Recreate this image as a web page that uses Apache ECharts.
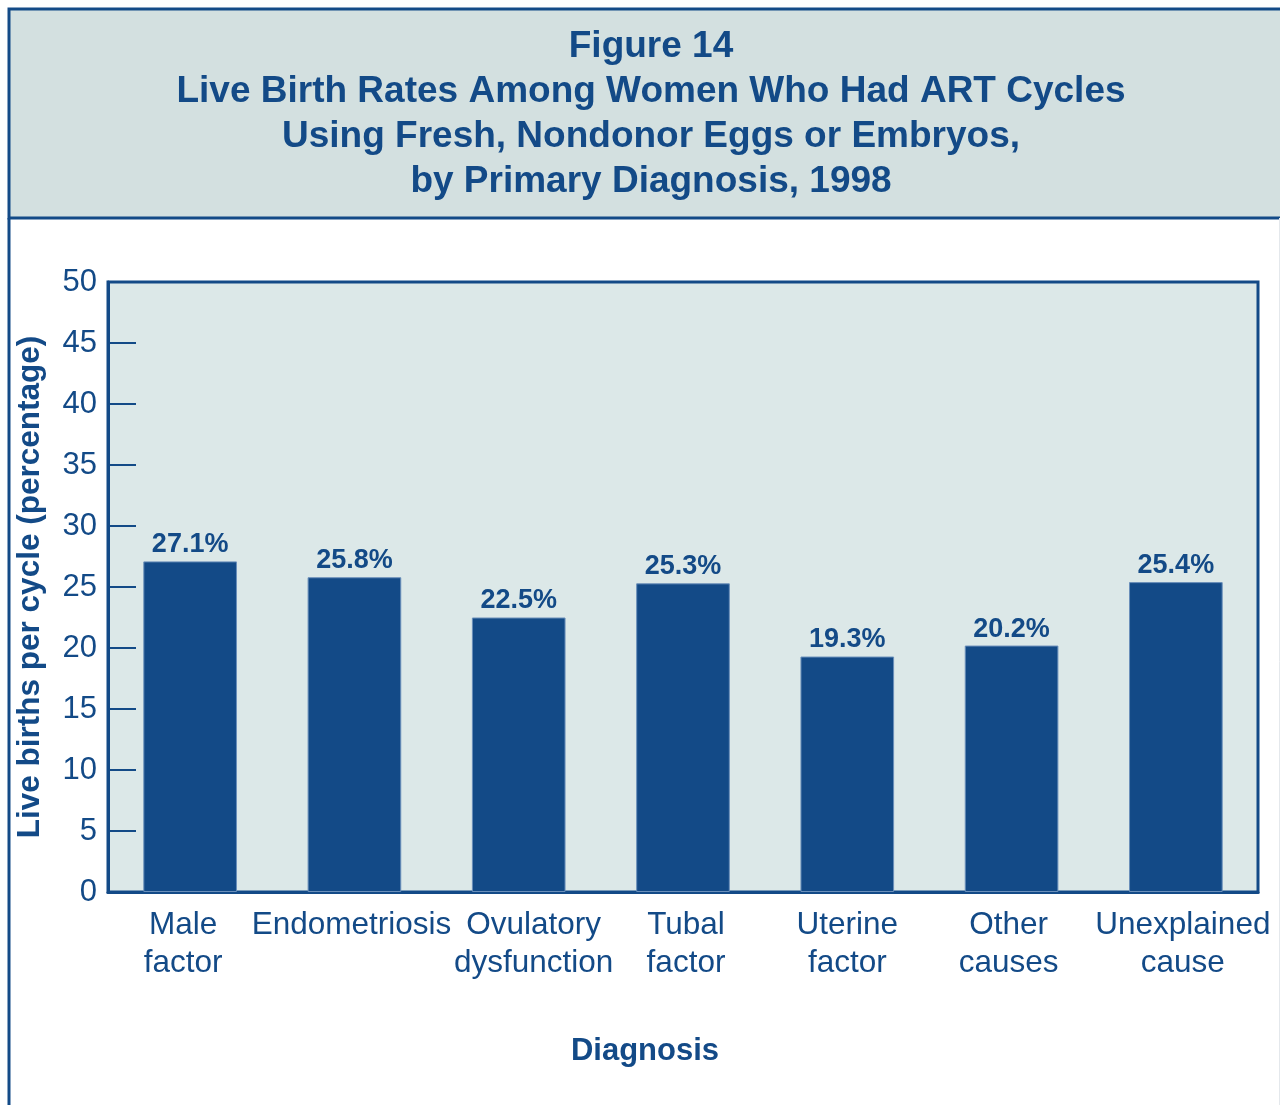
<!DOCTYPE html>
<html lang="en">
<head>
    <title>Figure 14</title>
    <meta charset="utf-8">
    <script src="https://cdn.jsdelivr.net/npm/echarts@6/dist/echarts.min.js"></script>
    <style>
        html, body { margin: 0; padding: 0; background: #fff; }
        #chart { width: 1280px; height: 1105px; }
    </style>
</head>
<body>
    <div id="chart"></div>
    <script type="text/javascript">
        // data
        var categories = ["Male\nfactor", "Endometriosis", "Ovulatory\ndysfunction", "Tubal\nfactor", "Uterine\nfactor", "Other\ncauses", "Unexplained\ncause"];
        var rates = [27.1, 25.8, 22.5, 25.3, 19.3, 20.2, 25.4];
        var yTicks = [0, 5, 10, 15, 20, 25, 30, 35, 40, 45, 50];

        var blue = "#134a87";
        var font = "Liberation Sans, Arial, Helvetica, sans-serif";
        // small horizontal nudges of the category labels, as in the original layout
        var labelShift = [-7, -3, 15, 3, 0, -3, 7];

        var axisData = categories.map(function (c, i) {
            var s = labelShift[i];
            return { value: c, textStyle: { padding: s >= 0 ? [0, 0, 0, 2 * s] : [0, -2 * s, 0, 0] } };
        });

        var mychart = echarts.init(document.getElementById("chart"));
        var option = {
            backgroundColor: "#fff",
            textStyle: { fontFamily: font },
            animation: false,
            title: {
                text: "Figure 14\nLive Birth Rates Among Women Who Had ART Cycles\nUsing Fresh, Nondonor Eggs or Embryos,\nby Primary Diagnosis, 1998",
                left: 646,
                top: 19,
                textAlign: "center",
                textStyle: { color: blue, fontSize: 37, fontWeight: "bold", lineHeight: 45, fontFamily: font }
            },
            graphic: [
                {
                    type: "rect", z: -10,
                    shape: { x: 9, y: 9, width: 1280, height: 209 },
                    style: { fill: "#d3e0e0", stroke: blue, lineWidth: 3 }
                },
                {
                    type: "line", z: -10,
                    shape: { x1: 9, y1: 218, x2: 9, y2: 1105 },
                    style: { stroke: blue, lineWidth: 3 }
                },
                {
                    type: "line", z: -10,
                    shape: { x1: 1279.5, y1: 218, x2: 1279.5, y2: 1105 },
                    style: { stroke: "#e4e8ec", lineWidth: 1 }
                },
                {
                    type: "text",
                    x: 645, y: 1051,
                    style: {
                        text: "Diagnosis",
                        fill: blue,
                        font: "bold 31px " + font,
                        textAlign: "center",
                        textVerticalAlign: "middle"
                    }
                }
            ],
            grid: {
                left: 108, right: 22, top: 282, bottom: 213,
                show: true,
                backgroundColor: "#dce8e8",
                borderColor: blue,
                borderWidth: 3
            },
            xAxis: {
                type: "category",
                data: axisData,
                axisLine: { lineStyle: { color: blue, width: 3 } },
                axisTick: { show: false },
                axisLabel: { color: blue, fontSize: 31.5, lineHeight: 38, margin: 14, interval: 0 }
            },
            yAxis: {
                type: "value",
                min: yTicks[0],
                max: yTicks[yTicks.length - 1],
                interval: 5,
                name: "Live births per cycle (percentage)",
                nameLocation: "middle",
                nameGap: 62,
                nameRotate: 90,
                nameTextStyle: { color: blue, fontSize: 31.5, fontWeight: "bold" },
                axisLine: { show: true, lineStyle: { color: blue, width: 3 } },
                axisTick: { show: true, inside: true, length: 28, lineStyle: { color: blue, width: 2 } },
                axisLabel: { color: blue, fontSize: 31, margin: 11 },
                splitLine: { show: false }
            },
            series: [
                {
                    type: "bar",
                    data: rates,
                    barWidth: "57%",
                    itemStyle: { color: blue, borderColor: "#6a8fba", borderWidth: 1 },
                    label: {
                        show: true,
                        position: "top",
                        distance: 3,
                        color: blue,
                        fontSize: 27,
                        fontWeight: "bold",
                        formatter: function (p) { return p.value.toFixed(1) + "%"; }
                    }
                }
            ]
        };
        mychart.setOption(option);
    </script>
</body>
</html>
